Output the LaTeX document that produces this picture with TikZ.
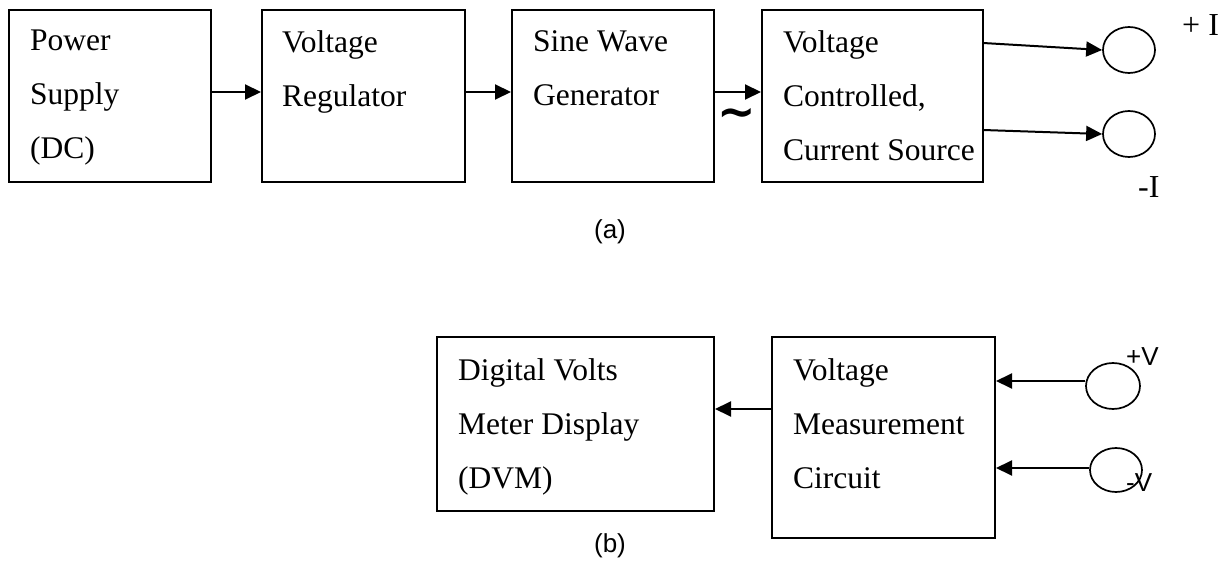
\documentclass[tikz,border=0pt]{standalone}
\usepackage{fontspec}
\setmainfont{Liberation Serif}
\newfontfamily\capsans{Liberation Sans}
\newfontfamily\acmark{DejaVu Sans}
\usetikzlibrary{arrows.meta,shapes.geometric}

\begin{document}
\begin{tikzpicture}[x=1pt,y=-1pt,
  blockbox/.style={draw, line width=2pt, rectangle, inner sep=0pt},
  blocktext/.style={anchor=north west, inner sep=0pt, align=left,
                    font=\fontsize{31.5}{54}\selectfont},
  conn/.style={line width=2pt, -{Triangle[length=16pt,width=15pt]}},
  terminal/.style={draw, line width=1.7pt, ellipse, inner sep=0pt},
  sublabel/.style={inner sep=0pt, font=\capsans\fontsize{26}{26}\selectfont},
  termlabel/.style={inner sep=0pt, anchor=base west}
]
\useasboundingbox (0,0) rectangle (1232,561);

% ---------- (a) current injection chain ----------
\node[blockbox, minimum width=202pt, minimum height=172pt] (b1) at (110,96) {};
\node[blockbox, minimum width=203pt, minimum height=172pt] (b2) at (363.5,96) {};
\node[blockbox, minimum width=202pt, minimum height=172pt] (b3) at (613,96) {};
\node[blockbox, minimum width=221pt, minimum height=172pt] (b4) at (872.5,96) {};

\node[blocktext] (t1) at (30,30) {Power\\Supply\\(DC)};
\node[blocktext] (t2) at (282,30) {Voltage\\Regulator};
\node[blocktext] (t3) at (533,30) {Sine Wave\\Generator};
\node[blocktext] (t4) at (783,30) {Voltage\\Controlled,\\Current Source};

\draw[conn] ([yshift=4pt]b1.east) -- ([yshift=4pt]b2.west);
\draw[conn] ([yshift=4pt]b2.east) -- ([yshift=4pt]b3.west);
\draw[conn] ([yshift=4pt]b3.east) -- ([yshift=4pt]b4.west);
% AC marker on the generator output
\node[inner sep=0pt, font=\acmark\bfseries\fontsize{46}{46}\selectfont] (tilde) at (737,118)
  {\textasciitilde};

\node[terminal, minimum width=52pt, minimum height=46pt] (c1) at (1129,50) {};
\node[terminal, minimum width=52pt, minimum height=46pt] (c2) at (1129,134) {};
\coordinate (o1) at (983,43);
\coordinate (o2) at (983,130);
\draw[conn] (o1) -- (c1.west);
\draw[conn] (o2) -- (c2.west);
\node[termlabel, font=\fontsize{32}{32}\selectfont] (lpi) at (1182,36) {+ I};
\node[termlabel, font=\fontsize{32}{32}\selectfont] (lmi) at (1138,198) {-I};

\node[sublabel] (capa) at (610,232) {(a)};

% ---------- (b) voltage measurement chain ----------
\node[blockbox, minimum width=277pt, minimum height=174pt] (b5) at (575.5,424) {};
\node[blockbox, minimum width=223pt, minimum height=201pt] (b6) at (883.5,437.5) {};

\node[blocktext] (t5) at (458,358) {Digital Volts\\Meter Display\\(DVM)};
\node[blocktext] (t6) at (793,358) {Voltage\\Measurement\\Circuit};

\draw[conn] (772,409) coordinate (m1) -- (b5.east |- m1);

\node[terminal, minimum width=54pt, minimum height=46pt] (c3) at (1113,386) {};
\node[terminal, minimum width=52pt, minimum height=44pt] (c4) at (1116,470) {};
\draw[conn] ([yshift=5pt]c3.west) coordinate (p1) -- (b6.east |- p1);
\draw[conn] ([yshift=2pt]c4.west) coordinate (p2) -- (b6.east |- p2);
\node[termlabel, font=\capsans\fontsize{26}{26}\selectfont] (lpv) at (1126,366) {+V};
\node[termlabel, font=\capsans\fontsize{26}{26}\selectfont] (lmv) at (1126,491) {-V};

\node[sublabel] (capb) at (610,546) {(b)};
\end{tikzpicture}
\end{document}
